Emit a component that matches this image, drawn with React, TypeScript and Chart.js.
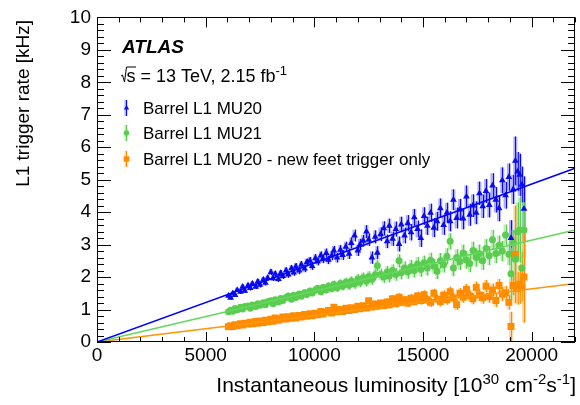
import React, { useEffect, useRef } from "react";
import { Chart, registerables } from "chart.js";

Chart.register(...registerables);

const FONT = '"Liberation Sans", Arial, Helvetica, sans-serif';

// Instantaneous luminosity bins [10^30 cm^-2 s^-1]
const LUMI = [
  6050, 6150, 6250, 6350, 6450, 6600, 6700, 6800, 6950, 7050,
  7150, 7300, 7400, 7500, 7650, 7750, 7850, 8000, 8100, 8200,
  8350, 8450, 8550, 8700, 8800, 8950, 9050, 9150, 9300, 9400,
  9550, 9650, 9800, 9900, 10050, 10150, 10300, 10400, 10550, 10650,
  10800, 10900, 11050, 11200, 11300, 11450, 11600, 11700, 11850, 12000,
  12100, 12250, 12400, 12500, 12650, 12800, 12900, 13050, 13200, 13350,
  13450, 13600, 13750, 13900, 14000, 14150, 14300, 14450, 14600, 14750,
  14900, 15050, 15200, 15350, 15500, 15650, 15800, 15950, 16100, 16250,
  16400, 16550, 16700, 16850, 17000, 17150, 17300, 17450, 17600, 17750,
  17900, 18050, 18200, 18350, 18500, 18650, 18800, 18950, 19050, 19150,
  19250, 19350, 19450, 19550, 19650,
];

// Barrel L1 MU20 rate [kHz]
const MU20 = [
  1.42, 1.36, 1.50, 1.45, 1.60, 1.55, 1.70, 1.58, 1.74, 1.66,
  1.80, 1.70, 1.86, 1.76, 1.92, 1.82, 1.97, 2.15, 1.96, 2.10,
  1.94, 2.12, 2.03, 2.20, 2.08, 2.27, 2.14, 2.32, 2.20, 2.38,
  2.26, 2.45, 2.50, 2.34, 2.58, 2.48, 2.66, 2.56, 2.74, 2.53,
  2.66, 2.82, 2.60, 2.84, 2.68, 2.93, 2.72, 3.05, 3.28, 2.82,
  3.00, 3.12, 3.40, 3.15, 2.60, 3.24, 2.75, 3.32, 3.50, 3.10,
  3.58, 3.18, 3.48, 3.02, 3.62, 3.28, 3.66, 3.38, 3.84, 3.48,
  3.20, 3.88, 3.58, 3.98, 3.52, 3.72, 4.12, 3.60, 3.98, 3.72,
  4.38, 3.82, 4.08, 3.80, 4.48, 3.92, 4.20, 3.98, 4.58, 4.18,
  4.65, 4.22, 4.82, 4.38, 4.12, 4.98, 4.52, 5.08, 3.20, 4.70,
  5.58, 5.25, 5.15, 4.85, 4.10,
];
const MU20_ERR = [
  0.06, 0.06, 0.06, 0.06, 0.06, 0.07, 0.07, 0.07, 0.07, 0.07,
  0.07, 0.07, 0.08, 0.08, 0.08, 0.08, 0.08, 0.09, 0.08, 0.09,
  0.09, 0.09, 0.09, 0.10, 0.10, 0.10, 0.10, 0.11, 0.11, 0.11,
  0.11, 0.12, 0.12, 0.12, 0.13, 0.12, 0.13, 0.13, 0.14, 0.13,
  0.14, 0.14, 0.15, 0.15, 0.15, 0.16, 0.16, 0.17, 0.18, 0.17,
  0.18, 0.18, 0.20, 0.19, 0.19, 0.20, 0.20, 0.21, 0.22, 0.21,
  0.22, 0.22, 0.23, 0.23, 0.24, 0.24, 0.25, 0.25, 0.26, 0.26,
  0.27, 0.27, 0.28, 0.28, 0.29, 0.29, 0.30, 0.30, 0.31, 0.31,
  0.32, 0.32, 0.33, 0.33, 0.34, 0.34, 0.35, 0.35, 0.36, 0.36,
  0.37, 0.38, 0.38, 0.39, 0.40, 0.40, 0.41, 0.42, 0.55, 0.45,
  0.75, 0.60, 0.65, 0.55, 1.00,
];

// Barrel L1 MU21 rate [kHz]
const MU21 = [
  0.93, 0.98, 0.95, 1.03, 0.99, 1.07, 1.02, 1.09, 1.11, 1.04,
  1.14, 1.09, 1.18, 1.13, 1.21, 1.15, 1.24, 1.27, 1.18, 1.30,
  1.23, 1.34, 1.28, 1.37, 1.42, 1.32, 1.44, 1.37, 1.48, 1.41,
  1.52, 1.46, 1.57, 1.51, 1.60, 1.65, 1.55, 1.68, 1.61, 1.72,
  1.65, 1.77, 1.67, 1.80, 1.72, 1.84, 1.75, 1.88, 1.79, 1.94,
  1.84, 1.98, 1.87, 2.02, 1.93, 2.07, 2.35, 2.08, 2.00, 2.16,
  2.03, 2.20, 2.08, 2.50, 2.13, 2.28, 2.16, 2.32, 2.20, 2.40,
  2.23, 2.44, 2.28, 2.52, 2.33, 2.18, 2.50, 2.38, 2.64, 3.10,
  2.28, 2.60, 2.48, 2.74, 2.53, 2.42, 2.82, 2.60, 2.72, 2.50,
  2.88, 2.66, 3.15, 2.73, 2.97, 2.80, 3.30, 2.70, 2.10, 3.05,
  2.55, 3.40, 3.45, 2.28, 3.45,
];
const MU21_ERR = [
  0.05, 0.05, 0.05, 0.05, 0.05, 0.05, 0.05, 0.06, 0.06, 0.06,
  0.06, 0.06, 0.06, 0.06, 0.07, 0.07, 0.07, 0.07, 0.07, 0.07,
  0.08, 0.08, 0.08, 0.08, 0.08, 0.09, 0.09, 0.09, 0.09, 0.09,
  0.10, 0.10, 0.10, 0.10, 0.11, 0.11, 0.11, 0.11, 0.12, 0.12,
  0.12, 0.12, 0.13, 0.13, 0.13, 0.14, 0.14, 0.14, 0.15, 0.15,
  0.15, 0.16, 0.16, 0.16, 0.17, 0.17, 0.17, 0.18, 0.18, 0.18,
  0.19, 0.19, 0.19, 0.20, 0.20, 0.20, 0.21, 0.21, 0.21, 0.22,
  0.22, 0.22, 0.23, 0.23, 0.23, 0.24, 0.24, 0.24, 0.25, 0.25,
  0.25, 0.26, 0.26, 0.26, 0.27, 0.27, 0.27, 0.28, 0.28, 0.28,
  0.29, 0.29, 0.30, 0.30, 0.31, 0.31, 0.32, 0.33, 0.80, 0.40,
  0.70, 0.90, 1.00, 0.50, 0.85,
];

// Barrel L1 MU20 - new feet trigger only [kHz]
const FEET = [
  0.47, 0.50, 0.48, 0.53, 0.50, 0.56, 0.52, 0.58, 0.55, 0.61,
  0.56, 0.63, 0.58, 0.65, 0.60, 0.67, 0.62, 0.70, 0.64, 0.74,
  0.67, 0.71, 0.77, 0.71, 0.78, 0.73, 0.81, 0.74, 0.82, 0.77,
  0.85, 0.79, 0.87, 0.81, 0.89, 0.84, 0.94, 0.86, 0.92, 0.97,
  0.89, 1.07, 0.93, 1.00, 0.94, 1.04, 0.97, 1.06, 1.00, 1.10,
  1.02, 1.12, 1.05, 1.27, 1.08, 1.17, 1.10, 1.20, 1.12, 1.23,
  1.15, 1.33, 1.18, 1.38, 1.22, 1.30, 1.20, 1.35, 1.25, 1.42,
  1.28, 1.46, 1.30, 1.22, 1.50, 1.32, 1.25, 1.44, 1.30, 1.55,
  1.36, 1.15, 1.50, 1.38, 1.62, 1.42, 1.33, 1.68, 1.45, 1.36,
  1.72, 1.40, 1.60, 1.28, 1.74, 1.48, 1.52, 1.22, 0.48, 1.74,
  2.70, 1.65, 1.78, 1.70, 2.00,
];
const FEET_ERR = [
  0.03, 0.03, 0.03, 0.03, 0.03, 0.03, 0.03, 0.03, 0.03, 0.03,
  0.03, 0.03, 0.03, 0.04, 0.04, 0.04, 0.04, 0.04, 0.04, 0.04,
  0.04, 0.04, 0.05, 0.05, 0.05, 0.05, 0.05, 0.05, 0.05, 0.05,
  0.06, 0.06, 0.06, 0.06, 0.06, 0.06, 0.06, 0.07, 0.07, 0.07,
  0.07, 0.07, 0.07, 0.08, 0.08, 0.08, 0.08, 0.08, 0.08, 0.09,
  0.09, 0.09, 0.09, 0.10, 0.10, 0.10, 0.10, 0.10, 0.11, 0.11,
  0.11, 0.11, 0.11, 0.12, 0.12, 0.12, 0.12, 0.12, 0.13, 0.13,
  0.13, 0.13, 0.14, 0.14, 0.14, 0.14, 0.15, 0.15, 0.15, 0.15,
  0.16, 0.16, 0.16, 0.17, 0.17, 0.17, 0.17, 0.18, 0.18, 0.18,
  0.19, 0.19, 0.20, 0.20, 0.20, 0.21, 0.21, 0.22, 0.45, 0.30,
  1.50, 0.50, 0.60, 0.45, 1.40,
];

// Linear fits through the origin
const FIT_X = [0, 22000];
const FIT_MU20 = [0, 5.35];
const FIT_MU21 = [0, 3.45];
const FIT_FEET = [0, 1.8];

// Axis ticks
const X_TICKS = [0, 5000, 10000, 15000, 20000];
const Y_TICKS = [0, 1, 2, 3, 4, 5, 6, 7, 8, 9, 10];
const X_MIN = 0, X_MAX = 22000, X_MAJOR = 5000, X_MINOR = 1000;
const Y_MIN = 0, Y_MAX = 10, Y_MAJOR = 1, Y_MINOR = 0.2;

const LEGEND = [
  "Barrel L1 MU20",
  "Barrel L1 MU21",
  "Barrel L1 MU20 - new feet trigger only",
];

const SERIES = [
  { color: "rgb(10,10,240)", light: "rgba(70,70,255,0.45)", line: "rgb(0,0,255)", shape: "triangle", radius: 3.9 },
  { color: "rgb(90,205,80)", light: "rgba(110,215,100,0.45)", line: "rgb(100,215,95)", shape: "circle", radius: 3.5 },
  { color: "rgb(255,140,0)", light: "rgba(255,165,50,0.45)", line: "rgb(255,150,10)", shape: "rect", radius: 4.9 },
];

type Part = { t: string; sup?: boolean };

function drawRich(ctx: CanvasRenderingContext2D, parts: Part[], x: number, y: number, size: number, align: "left" | "right") {
  const supSize = Math.round(size * 0.7);
  let w = 0;
  for (const p of parts) {
    ctx.font = `${p.sup ? supSize : size}px ${FONT}`;
    w += ctx.measureText(p.t).width;
  }
  let cx = align === "right" ? x - w : x;
  ctx.textAlign = "left";
  ctx.textBaseline = "alphabetic";
  for (const p of parts) {
    ctx.font = `${p.sup ? supSize : size}px ${FONT}`;
    ctx.fillText(p.t, cx, p.sup ? y - size * 0.4 : y);
    cx += ctx.measureText(p.t).width;
  }
  return w;
}

function drawMarker(ctx: CanvasRenderingContext2D, shape: string, x: number, y: number, r: number, color: string) {
  ctx.fillStyle = color;
  ctx.beginPath();
  if (shape === "triangle") {
    ctx.moveTo(x, y - r);
    ctx.lineTo(x + r * 0.866, y + r * 0.5);
    ctx.lineTo(x - r * 0.866, y + r * 0.5);
    ctx.closePath();
  } else if (shape === "circle") {
    ctx.arc(x, y, r, 0, Math.PI * 2);
  } else {
    const s = r / Math.SQRT2;
    ctx.rect(x - s, y - s, 2 * s, 2 * s);
  }
  ctx.fill();
}

const VALUES = [MU20, MU21, FEET];
const ERRORS = [MU20_ERR, MU21_ERR, FEET_ERR];
const FITS = [FIT_MU20, FIT_MU21, FIT_FEET];

const errorBarPlugin = {
  id: "errorBars",
  beforeDatasetsDraw(chart: any) {
    const ctx: CanvasRenderingContext2D = chart.ctx;
    const a = chart.chartArea;
    const ys = chart.scales.y;
    ctx.save();
    ctx.beginPath();
    ctx.rect(a.left, a.top, a.right - a.left, a.bottom - a.top);
    ctx.clip();
    chart.data.datasets.forEach((ds: any, di: number) => {
      if (ds.seriesIndex === undefined) return;
      const s = SERIES[ds.seriesIndex];
      const meta = chart.getDatasetMeta(di);
      meta.data.forEach((el: any, i: number) => {
        const v = ds.data[i].y;
        const e = ds.data[i].e;
        const top = ys.getPixelForValue(v + e);
        const bot = ys.getPixelForValue(Math.max(0, v - e));
        ctx.fillStyle = s.light;
        ctx.fillRect(el.x - 2, top, 4, bot - top);
        ctx.strokeStyle = s.color;
        ctx.lineWidth = 1;
        ctx.beginPath();
        ctx.moveTo(Math.round(el.x) + 0.5, top);
        ctx.lineTo(Math.round(el.x) + 0.5, bot);
        ctx.stroke();
      });
    });
    ctx.restore();
  },
};

const decorPlugin = {
  id: "decor",
  afterDraw(chart: any) {
    const ctx: CanvasRenderingContext2D = chart.ctx;
    const a = chart.chartArea;
    const xs = chart.scales.x;
    const ys = chart.scales.y;
    ctx.save();
    ctx.strokeStyle = "#000";
    ctx.lineWidth = 1;
    // frame
    ctx.strokeRect(Math.round(a.left) + 0.5, Math.round(a.top) + 0.5, Math.round(a.right - a.left) - 1, Math.round(a.bottom - a.top) - 1);
    // x ticks
    ctx.beginPath();
    for (let v = X_MIN; v <= X_MAX + 0.001; v += X_MINOR) {
      const px = Math.round(xs.getPixelForValue(v)) + 0.5;
      const len = Math.abs(v % X_MAJOR) < 1e-6 ? 10 : 5;
      ctx.moveTo(px, a.bottom);
      ctx.lineTo(px, a.bottom - len);
      ctx.moveTo(px, a.top);
      ctx.lineTo(px, a.top + len);
    }
    // y ticks
    const nY = Math.round((Y_MAX - Y_MIN) / Y_MINOR);
    for (let i = 0; i <= nY; i++) {
      const v = Y_MIN + i * Y_MINOR;
      const py = Math.round(ys.getPixelForValue(v)) + 0.5;
      const major = Math.abs(v / Y_MAJOR - Math.round(v / Y_MAJOR)) < 1e-6;
      const len = major ? 14 : 7;
      ctx.moveTo(a.left, py);
      ctx.lineTo(a.left + len, py);
      ctx.moveTo(a.right, py);
      ctx.lineTo(a.right - len, py);
    }
    ctx.stroke();

    ctx.fillStyle = "#000";
    // x title
    drawRich(
      ctx,
      [
        { t: "Instantaneous luminosity [10" },
        { t: "30", sup: true },
        { t: " cm" },
        { t: "-2", sup: true },
        { t: "s" },
        { t: "-1", sup: true },
        { t: "]" },
      ],
      576,
      392,
      21,
      "right"
    );
    // y title
    ctx.save();
    ctx.translate(29, 20);
    ctx.rotate(-Math.PI / 2);
    ctx.font = `19px ${FONT}`;
    ctx.textAlign = "right";
    ctx.textBaseline = "alphabetic";
    ctx.fillText("L1 trigger rate [kHz]", 0, 0);
    ctx.restore();

    // ATLAS label
    ctx.font = `italic bold 19px ${FONT}`;
    ctx.textAlign = "left";
    ctx.textBaseline = "alphabetic";
    ctx.fillText("ATLAS", 122, 53);

    // sqrt(s) line
    const sx = 121;
    const base = 82;
    ctx.font = `18px ${FONT}`;
    ctx.lineWidth = 1;
    ctx.beginPath();
    ctx.moveTo(sx, base - 6);
    ctx.lineTo(sx + 1.5, base - 7);
    ctx.lineTo(sx + 3.5, base);
    ctx.lineTo(sx + 5.5, base - 15);
    ctx.lineTo(sx + 15, base - 15);
    ctx.stroke();
    ctx.fillText("s", sx + 5.5, base);
    drawRich(
      ctx,
      [{ t: " = 13 TeV, 2.15 fb" }, { t: "-1", sup: true }],
      sx + 5.5 + ctx.measureText("s").width,
      base,
      18,
      "left"
    );

    // legend
    const rows = [108, 133, 159];
    LEGEND.forEach((label, i) => {
      const s = SERIES[i];
      const mx = 126;
      const my = rows[i];
      ctx.fillStyle = s.light;
      ctx.fillRect(mx - 1.5, my - 8, 3, 16);
      ctx.strokeStyle = s.color;
      ctx.beginPath();
      ctx.moveTo(mx + 0.5, my - 8);
      ctx.lineTo(mx + 0.5, my + 8);
      ctx.stroke();
      drawMarker(ctx, s.shape, mx + 0.5, my, s.radius * 0.8, s.color);
      ctx.fillStyle = "#000";
      ctx.font = `17px ${FONT}`;
      ctx.textAlign = "left";
      ctx.textBaseline = "alphabetic";
      ctx.fillText(label, 143, my + 6);
    });
    ctx.restore();
  },
};

export default function App() {
  const ref = useRef<HTMLCanvasElement>(null);
  useEffect(() => {
    const canvas = ref.current;
    if (!canvas) return;
    const pointSets = VALUES.map((vals, si) => ({
      type: "scatter" as const,
      data: LUMI.map((x, i) => ({ x, y: vals[i], e: ERRORS[si][i] })),
      seriesIndex: si,
      pointStyle: SERIES[si].shape,
      pointRadius: SERIES[si].radius,
      pointHoverRadius: SERIES[si].radius,
      pointBackgroundColor: SERIES[si].color,
      pointBorderColor: SERIES[si].color,
      pointBorderWidth: 0,
      showLine: false,
      order: 2,
    }));
    const fitSets = FITS.map((f, si) => ({
      type: "scatter" as const,
      data: FIT_X.map((x, i) => ({ x, y: f[i] })),
      showLine: true,
      borderColor: SERIES[si].line,
      borderWidth: 1.6,
      pointRadius: 0,
      fill: false,
      order: 1,
    }));
    const tickFont = { family: FONT, size: 19 };
    const chart = new Chart(canvas, {
      type: "scatter",
      data: { datasets: [...fitSets, ...pointSets] as any },
      options: {
        animation: false,
        responsive: false,
        devicePixelRatio: 1,
        layout: { padding: { top: 14, right: 2, left: 0, bottom: 0 } },
        plugins: { legend: { display: false }, tooltip: { enabled: false } },
        scales: {
          x: {
            type: "linear",
            min: X_MIN,
            max: X_MAX,
            grid: { display: false, drawTicks: false },
            border: { display: false },
            afterBuildTicks: (s: any) => {
              s.ticks = X_TICKS.map((v) => ({ value: v }));
            },
            afterFit: (s: any) => {
              s.height = 63;
            },
            ticks: {
              padding: 2,
              font: tickFont,
              color: "#000",
              maxRotation: 0,
              autoSkip: false,
              callback: (v: any) => String(v),
            },
          },
          y: {
            type: "linear",
            min: Y_MIN,
            max: Y_MAX,
            grid: { display: false, drawTicks: false },
            border: { display: false },
            afterBuildTicks: (s: any) => {
              s.ticks = Y_TICKS.map((v) => ({ value: v }));
            },
            afterFit: (s: any) => {
              s.width = 97;
            },
            ticks: {
              padding: 6,
              font: tickFont,
              color: "#000",
              autoSkip: false,
              callback: (v: any) => String(v),
            },
          },
        },
      } as any,
      plugins: [errorBarPlugin, decorPlugin],
    });
    return () => chart.destroy();
  }, []);
  return (
    <div style={{ position: "absolute", left: 0, top: 0, width: 580, height: 405, background: "#fff" }}>
      <canvas ref={ref} width={580} height={405} />
    </div>
  );
}
